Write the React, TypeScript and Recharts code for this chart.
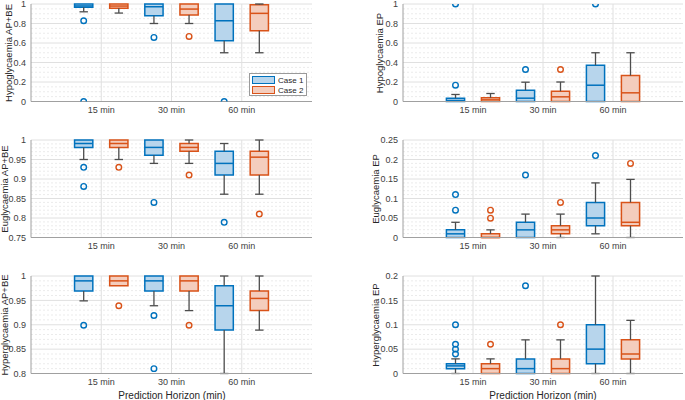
import { ComposedChart, XAxis, YAxis, CartesianGrid, ReferenceArea, ReferenceLine, Scatter } from 'recharts'

const horizons = ['15 min', '30 min', '60 min']
const caseNames = ['Case 1', 'Case 2']

// each row: [lower whisker, Q1, median, Q3, upper whisker] for 15 / 30 / 60 min
const hypoApCase1 = [[0.92, 0.966, 0.98, 1, 1], [0.8, 0.88, 0.972, 1, 1], [0.5, 0.622, 0.828, 1, 1]]
const hypoApCase2 = [[0.907, 0.956, 0.979, 1, 1], [0.8, 0.886, 0.948, 1, 1], [0.5, 0.725, 0.904, 0.993, 1]]
const hypoApOut1 = [[0.828, 0], [0.657], [0]]
const hypoApOut2 = [[], [0.667], []]

const hypoEpCase1 = [[0, 0, 0.01, 0.034, 0.072], [0, 0, 0.034, 0.116, 0.198], [0, 0, 0.167, 0.372, 0.5]]
const hypoEpCase2 = [[0, 0, 0.017, 0.038, 0.082], [0, 0, 0.048, 0.106, 0.2], [0, 0, 0.089, 0.266, 0.5]]
const hypoEpOut1 = [[0.167, 1], [0.328], [1]]
const hypoEpOut2 = [[], [0.328], []]

const euApCase1 = [[0.95, 0.981, 0.991, 1, 1], [0.94, 0.961, 0.981, 1, 1], [0.861, 0.91, 0.94, 0.971, 0.991]]
const euApCase2 = [[0.95, 0.981, 0.991, 1, 1], [0.94, 0.971, 0.981, 0.991, 1], [0.861, 0.91, 0.956, 0.971, 1]]
const euApOut1 = [[0.93, 0.881], [0.84], [0.789]]
const euApOut2 = [[0.93], [0.91], [0.81]]

const euEpCase1 = [[0, 0, 0.0094, 0.0196, 0.039], [0, 0, 0.0196, 0.039, 0.06], [0.0094, 0.03, 0.05, 0.09, 0.14]]
const euEpCase2 = [[0, 0, 0, 0.0094, 0.0196], [0, 0.0094, 0.0196, 0.03, 0.06], [0, 0.03, 0.039, 0.09, 0.149]]
const euEpOut1 = [[0.07, 0.11], [0.16], [0.21]]
const euEpOut2 = [[0.0495, 0.07], [0.09], [0.19]]

const hyperApCase1 = [[0.949, 0.969, 0.99, 1, 1], [0.939, 0.969, 0.99, 1, 1], [0.8, 0.889, 0.939, 0.98, 1]]
const hyperApCase2 = [[0.98, 0.98, 0.99, 1, 1], [0.929, 0.969, 0.99, 1, 1], [0.889, 0.929, 0.954, 0.969, 1]]
const hyperApOut1 = [[0.899], [0.919, 0.81], []]
const hyperApOut2 = [[0.939], [0.899], []]

const hyperEpCase1 = [[0, 0.01, 0.0156, 0.02, 0.03], [0, 0, 0.01, 0.03, 0.069], [0, 0.02, 0.05, 0.1, 0.2]]
const hyperEpCase2 = [[0, 0, 0.01, 0.02, 0.03], [0, 0, 0.01, 0.03, 0.069], [0, 0.03, 0.04, 0.069, 0.109]]
const hyperEpOut1 = [[0.04, 0.05, 0.06, 0.1], [0.18], []]
const hyperEpOut2 = [[0.06], [0.1], []]

const ticksUnit = [0, 0.2, 0.4, 0.6, 0.8, 1]
const ticksEuAp = [0.75, 0.8, 0.85, 0.9, 0.95, 1]
const ticksEuEp = [0, 0.05, 0.1, 0.15, 0.2, 0.25]
const ticksHyperAp = [0.8, 0.85, 0.9, 0.95, 1]
const ticksHyperEp = [0, 0.05, 0.1, 0.15, 0.2]

const EDGE = ['#0072BD', '#D95319']
const FILL = ['#b7d5ec', '#f4cdbd']
const WHISKER = '#4d4d4d'
const FONT = '"Liberation Sans", Arial, sans-serif'
const OFFSET = [-0.25, 0.25]
const HW = 0.13
const CAP = 0.06

const minorValues = (ticks: number[], n: number) => {
  const out: number[] = []
  for (let i = 0; i < ticks.length - 1; i++) {
    const step = (ticks[i + 1] - ticks[i]) / n
    for (let k = 1; k < n; k++) out.push(ticks[i] + k * step)
  }
  return out
}

interface PanelProps {
  left: number
  top: number
  width: number
  axisWidth: number
  rightMargin: number
  ticks: number[]
  minorN: number
  stats: number[][][]
  outliers: number[][][]
  label: string
  labelX: number
}

function BoxPanel({ left, top, width, axisWidth, rightMargin, ticks, minorN, stats, outliers, label, labelX }: PanelProps) {
  const plotH = 97.5
  const padTop = 6
  const domain = [ticks[0], ticks[ticks.length - 1]]

  const boxes: any[] = []
  stats.forEach((rows, s) => {
    rows.forEach(([lo, q1, med, q3, hi], i) => {
      const c = i + 1 + OFFSET[s]
      const k = `${s}-${i}`
      if (hi > q3) {
        boxes.push(<ReferenceLine key={`uw${k}`} ifOverflow="visible" segment={[{ x: c, y: q3 }, { x: c, y: hi }]} stroke={WHISKER} strokeWidth={1.3} />)
        boxes.push(<ReferenceLine key={`uc${k}`} ifOverflow="visible" segment={[{ x: c - CAP, y: hi }, { x: c + CAP, y: hi }]} stroke={WHISKER} strokeWidth={1.3} />)
      }
      if (lo < q1) {
        boxes.push(<ReferenceLine key={`lw${k}`} ifOverflow="visible" segment={[{ x: c, y: lo }, { x: c, y: q1 }]} stroke={WHISKER} strokeWidth={1.3} />)
        boxes.push(<ReferenceLine key={`lc${k}`} ifOverflow="visible" segment={[{ x: c - CAP, y: lo }, { x: c + CAP, y: lo }]} stroke={WHISKER} strokeWidth={1.3} />)
      }
      boxes.push(<ReferenceArea key={`b${k}`} ifOverflow="visible" x1={c - HW} x2={c + HW} y1={q1} y2={q3} fill={FILL[s]} fillOpacity={1} stroke={EDGE[s]} strokeWidth={1.5} />)
      boxes.push(<ReferenceLine key={`m${k}`} ifOverflow="visible" segment={[{ x: c - HW, y: med }, { x: c + HW, y: med }]} stroke={EDGE[s]} strokeWidth={1.5} />)
    })
  })

  const points = outliers.map((rows) =>
    rows.flatMap((vals, i) => vals.map((v) => ({ x: i + 1, y: v })))
  )

  return (
    <div style={{ position: 'absolute', left, top: top - padTop }}>
      <ComposedChart width={width} height={padTop + plotH + 22} margin={{ top: padTop, right: rightMargin, bottom: 2, left: 0 }}>
        <CartesianGrid horizontalValues={minorValues(ticks, minorN)} vertical={false} stroke="#ebebeb" strokeDasharray="2 2" />
        <CartesianGrid horizontalValues={ticks} verticalValues={[1, 2, 3]} stroke="#e0e0e0" />
        <XAxis
          dataKey="x"
          type="number"
          domain={[0, 4]}
          ticks={[1, 2, 3]}
          allowDataOverflow
          tickFormatter={(v) => horizons[v - 1]}
          tick={{ fill: '#404040', fontSize: 9, fontFamily: FONT }}
          tickLine={false}
          tickSize={3}
          tickMargin={2}
          axisLine={{ stroke: '#a0a0a0' }}
          height={20}
        />
        <YAxis
          dataKey="y"
          type="number"
          domain={domain}
          ticks={ticks}
          interval={0}
          allowDataOverflow
          width={axisWidth}
          tick={{ fill: '#404040', fontSize: 9, fontFamily: FONT }}
          tickLine={false}
          tickSize={3}
          tickMargin={2}
          axisLine={{ stroke: '#a0a0a0' }}
        />
        {boxes}
        {points.map((pts, s) => (
          <Scatter
            key={s}
            name={caseNames[s]}
            data={pts.map((p) => ({ x: p.x + OFFSET[s], y: p.y }))}
            isAnimationActive={false}
            shape={(p: any) => <circle cx={p.cx} cy={p.cy} r={2.8} fill="none" stroke={EDGE[s]} strokeWidth={1.4} />}
          />
        ))}
      </ComposedChart>
      <div
        style={{
          position: 'absolute',
          left: labelX - left,
          top: padTop + plotH / 2,
          transform: 'translate(-50%, -50%) rotate(-90deg)',
          whiteSpace: 'nowrap',
          fontSize: 9.5,
          color: '#262626',
          fontFamily: FONT,
        }}
      >
        {label}
      </div>
    </div>
  )
}

function Legend() {
  return (
    <div
      style={{
        position: 'absolute',
        left: 249,
        top: 73,
        width: 56,
        height: 21,
        border: '1px solid #9a9a9a',
        background: '#fff',
        fontFamily: FONT,
        fontSize: 8,
        color: '#262626',
        whiteSpace: 'nowrap',
      }}
    >
      {caseNames.map((n, s) => (
        <div key={n} style={{ display: 'flex', alignItems: 'center', height: 10, marginTop: s === 0 ? 1 : 0 }}>
          <div style={{ width: 21, height: 6, marginLeft: 2, marginRight: 3, background: FILL[s], border: `1.5px solid ${EDGE[s]}`, flex: 'none' }} />
          <span>{n}</span>
        </div>
      ))}
    </div>
  )
}

const xTitle = 'Prediction Horizon (min)'

export default function App() {
  const L = { left: 0, width: 330, axisWidth: 31, rightMargin: 18 }
  const R = { left: 340, width: 345, axisWidth: 63, rightMargin: 2 }
  return (
    <div style={{ position: 'absolute', left: 0, top: 0, width: 685, height: 400, background: '#fff', overflow: 'hidden' }}>
      <BoxPanel {...L} top={4} ticks={ticksUnit} minorN={4} stats={[hypoApCase1, hypoApCase2]} outliers={[hypoApOut1, hypoApOut2]} label="Hypoglycaemia AP+BE" labelX={8} />
      <BoxPanel {...R} top={4} ticks={ticksUnit} minorN={4} stats={[hypoEpCase1, hypoEpCase2]} outliers={[hypoEpOut1, hypoEpOut2]} label="Hypoglycaemia EP" labelX={379} />
      <BoxPanel {...L} top={140} ticks={ticksEuAp} minorN={5} stats={[euApCase1, euApCase2]} outliers={[euApOut1, euApOut2]} label="Euglycaemia AP+BE" labelX={4} />
      <BoxPanel {...R} top={140} ticks={ticksEuEp} minorN={5} stats={[euEpCase1, euEpCase2]} outliers={[euEpOut1, euEpOut2]} label="Euglycaemia EP" labelX={375} />
      <BoxPanel {...L} top={276} ticks={ticksHyperAp} minorN={5} stats={[hyperApCase1, hyperApCase2]} outliers={[hyperApOut1, hyperApOut2]} label="Hyperglycaemia AP+BE" labelX={4} />
      <BoxPanel {...R} top={276} ticks={ticksHyperEp} minorN={5} stats={[hyperEpCase1, hyperEpCase2]} outliers={[hyperEpOut1, hyperEpOut2]} label="Hyperglycaemia EP" labelX={375} />
      <Legend />
      {[172, 543].map((cx) => (
        <div
          key={cx}
          style={{ position: 'absolute', left: cx, top: 395, transform: 'translate(-50%, -50%)', whiteSpace: 'nowrap', fontSize: 10, color: '#262626', fontFamily: FONT }}
        >
          {xTitle}
        </div>
      ))}
    </div>
  )
}
